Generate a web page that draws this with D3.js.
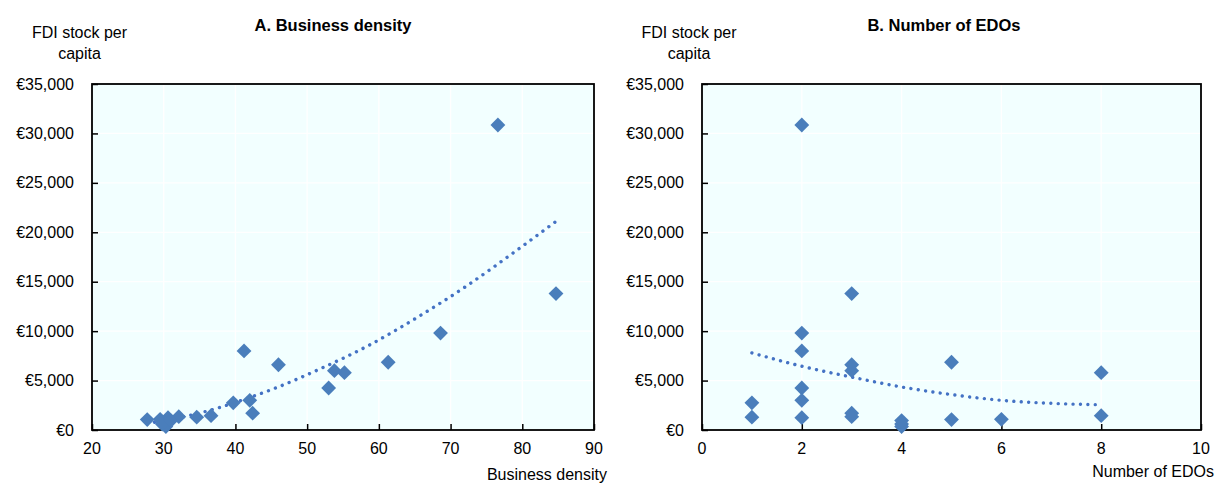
<!DOCTYPE html>
<html>
<head>
<meta charset="utf-8">
<script src="https://cdn.jsdelivr.net/npm/d3@7"></script>
<style>
  html, body { margin: 0; padding: 0; background: #ffffff; }
  svg { display: block; }
  text { font-family: "Liberation Sans", Arial, Helvetica, sans-serif; fill: #000; }
</style>
</head>
<body>
<svg id="chart" width="1215" height="483"></svg>
<script>
// ---- Data ----
const businessDensity = [76.6, 84.7, 68.6, 61.3, 55.2, 53.8, 53.0, 46.0, 41.2, 42.0, 42.4, 39.7, 36.6, 34.6, 32.1, 30.6, 29.5, 27.7, 30.3, 29.8, 31.0];
const edoCount        = [2, 3, 2, 5, 8, 3, 2, 3, 2, 2, 3, 1, 8, 1, 3, 2, 6, 5, 4, 4, 4];
const fdiPerCapita    = [30850, 13800, 9800, 6850, 5800, 6000, 4250, 6600, 8000, 3000, 1700, 2750, 1450, 1300, 1350, 1250, 1080, 1050, 350, 600, 950];

// Trend lines
const trendA_x = [27.7, 28.5, 33.5, 37.9, 41.0, 45.3, 51.5, 58.7, 65.6, 72.3, 78.8, 84.7];
const trendA_y = [600, 750, 1450, 2300, 3040, 4160, 6080, 8600, 11500, 14600, 17950, 21100];
const trendB_x = [1, 2, 3, 4, 5, 6, 7, 8];
const trendB_y = [7800, 6450, 5350, 4350, 3580, 3000, 2700, 2550];

// Axis ticks
const yTicks  = [0, 5000, 10000, 15000, 20000, 25000, 30000, 35000];
const xTicksA = [20, 30, 40, 50, 60, 70, 80, 90];
const xTicksB = [0, 2, 4, 6, 8, 10];

// Texts
const titles = ["A. Business density", "B. Number of EDOs"];
const yTitleLines = ["FDI stock per", "capita"];
const xTitles = ["Business density", "Number of EDOs"];

// ---- Drawing ----
const svg = d3.select("#chart");
const markerColor = "#4a7ebb";
const trendColor = "#4472c4";
const bgColor = "#f2ffff";
const fmt = v => "\u20ac" + d3.format(",")(v);

const panels = [
  { title: titles[0], xTitle: xTitles[0], x0: 92, x1: 594, domain: [20, 90], ticks: xTicksA,
    xs: businessDensity, tx: trendA_x, ty: trendA_y, titleX: 333, yLabX: 79.5, yTickRight: 74, xTitleRight: 607, xTitleY: 480 },
  { title: titles[1], xTitle: xTitles[1], x0: 702, x1: 1201, domain: [0, 10], ticks: xTicksB,
    xs: edoCount, tx: trendB_x, ty: trendB_y, titleX: 944, yLabX: 689, yTickRight: 684, xTitleRight: 1214, xTitleY: 477 }
];

const yTop = 84, yBot = 430;
const y = d3.scaleLinear().domain([0, 35000]).range([yBot, yTop]);

panels.forEach(p => {
  const x = d3.scaleLinear().domain(p.domain).range([p.x0, p.x1]);
  const g = svg.append("g");

  // background
  g.append("rect").attr("x", p.x0).attr("y", yTop)
    .attr("width", p.x1 - p.x0).attr("height", yBot - yTop)
    .attr("fill", bgColor);

  // gridlines
  g.append("g").selectAll("line.h").data(yTicks).join("line")
    .attr("x1", p.x0).attr("x2", p.x1)
    .attr("y1", d => y(d)).attr("y2", d => y(d))
    .attr("stroke", "#ffffff").attr("stroke-width", 1.3);
  g.append("g").selectAll("line.v").data(p.ticks).join("line")
    .attr("x1", d => x(d)).attr("x2", d => x(d))
    .attr("y1", yTop).attr("y2", yBot)
    .attr("stroke", "#ffffff").attr("stroke-width", 1.3);

  // axes (inward ticks)
  const xAxis = d3.axisTop(x).tickValues(p.ticks).tickSize(6).tickFormat("");
  const xa = g.append("g").attr("transform", `translate(0,${yBot})`).call(xAxis);
  xa.select(".domain").remove();
  xa.selectAll("line").attr("stroke", "#000").attr("stroke-width", 1.5);

  const yAxis = d3.axisRight(y).tickValues(yTicks).tickSize(6).tickFormat("");
  const ya = g.append("g").attr("transform", `translate(${p.x0},0)`).call(yAxis);
  ya.select(".domain").remove();
  ya.selectAll("line").attr("stroke", "#000").attr("stroke-width", 1.5);

  // frame
  g.append("rect").attr("x", p.x0).attr("y", yTop)
    .attr("width", p.x1 - p.x0).attr("height", yBot - yTop)
    .attr("fill", "none").attr("stroke", "#000").attr("stroke-width", 1.8);

  // tick labels
  g.append("g").selectAll("text").data(yTicks).join("text")
    .attr("x", p.yTickRight).attr("y", d => y(d) + 5.5)
    .attr("text-anchor", "end").attr("font-size", 16)
    .text(fmt);
  g.append("g").selectAll("text").data(p.ticks).join("text")
    .attr("x", d => x(d)).attr("y", 454)
    .attr("text-anchor", "middle").attr("font-size", 16)
    .text(d => d);

  // trend line (dotted)
  const pts = p.tx.map((v, i) => [v, p.ty[i]]);
  const line = d3.line().x(d => x(d[0])).y(d => y(d[1])).curve(d3.curveMonotoneX);
  g.append("path").datum(pts).attr("d", line)
    .attr("fill", "none").attr("stroke", trendColor)
    .attr("stroke-width", 3.4).attr("stroke-linecap", "round")
    .attr("stroke-dasharray", "0.01 7.4");

  // markers (diamonds)
  const sym = d3.symbol().type(d3.symbolSquare).size(110);
  g.append("g").selectAll("path").data(fdiPerCapita).join("path")
    .attr("d", sym)
    .attr("transform", (d, i) => `translate(${x(p.xs[i])},${y(d)}) rotate(45)`)
    .attr("fill", markerColor);

  // titles
  g.append("text").attr("x", p.titleX).attr("y", 31)
    .attr("text-anchor", "middle").attr("font-size", 16.5).attr("font-weight", "bold")
    .text(p.title);
  g.append("text").attr("x", p.yLabX).attr("y", 38)
    .attr("text-anchor", "middle").attr("font-size", 16).text(yTitleLines[0]);
  g.append("text").attr("x", p.yLabX).attr("y", 59)
    .attr("text-anchor", "middle").attr("font-size", 16).text(yTitleLines[1]);
  g.append("text").attr("x", p.xTitleRight).attr("y", p.xTitleY)
    .attr("text-anchor", "end").attr("font-size", 16).text(p.xTitle);
});
</script>
</body>
</html>
